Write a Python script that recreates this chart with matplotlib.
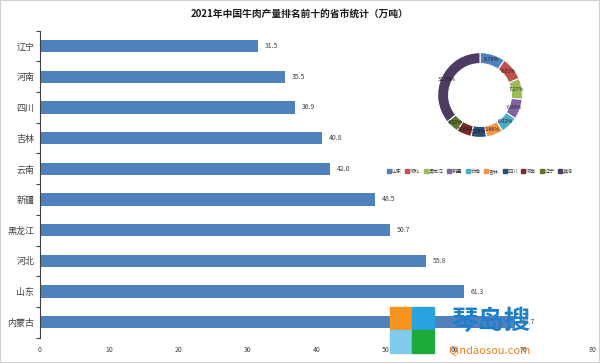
import matplotlib.pyplot as plt
from matplotlib.patches import Rectangle
from matplotlib.lines import Line2D
import numpy as np

plt.rcParams['font.family'] = ['Noto Sans CJK SC', 'DejaVu Sans']

# bar data (top to bottom as in the picture)
provinces = ['辽宁', '河南', '四川', '吉林', '云南', '新疆', '黑龙江', '河北', '山东', '内蒙古']
output = [31.5, 35.5, 36.9, 40.8, 42.0, 48.5, 50.7, 55.8, 61.3, 68.7]

# donut data
pie_names = ['山东', '河北', '黑龙江', '新疆', '云南', '吉林', '四川', '河南', '辽宁', '其他']
pie_pct = [8.79, 8.01, 7.27, 6.95, 6.02, 5.86, 5.28, 5.09, 4.52, 32.36]
pie_colors = ['#4F81BD', '#C0504D', '#9BBB59', '#8064A2', '#4BACC6',
              '#F79646', '#2C4D75', '#772C2A', '#5F7530', '#4D3B62']

fig = plt.figure(figsize=(6, 3.63), dpi=100)

# main bar chart
ax = fig.add_axes([0.0667, 0.0700, 0.9213, 0.8454])
y = np.arange(len(provinces))
ax.barh(y, output, height=0.4, color='#4F81BD')
ax.set_ylim(len(provinces) - 0.5, -0.5)
ax.set_xlim(0, 80)
ax.set_xticks(range(0, 81, 10))
ax.tick_params(axis='x', length=0, labelsize=5, colors='#404040', pad=6)
ax.set_yticks(y)
ax.set_yticklabels(provinces, fontsize=6.5, color='#404040')
ax.tick_params(axis='y', length=0, pad=4)
ax.set_yticks(np.arange(-0.5, len(provinces)), minor=True)
ax.tick_params(axis='y', which='minor', length=3, width=0.8, color='#404040')
for s in ['top', 'right', 'bottom']:
    ax.spines[s].set_visible(False)
ax.spines['left'].set_color('#404040')
ax.spines['left'].set_linewidth(0.8)
for yi, v in zip(y, output):
    ax.text(v + 1, yi, f'{v:.1f}', va='center', ha='left', fontsize=5, color='#404040')

fig.text(0.5, 0.962, '2021年中国牛肉产量排名前十的省市统计（万吨）',
         ha='center', va='center', fontsize=7, fontweight='bold', color='#1a1a1a')

# donut
pax = fig.add_axes([0.7117, 0.5923, 0.1767, 0.2920])
wedges, _ = pax.pie(pie_pct, colors=pie_colors, startangle=90, counterclock=False,
                    wedgeprops=dict(width=0.26, edgecolor='white', linewidth=0.8))
pax.set_aspect('equal')
for w, p in zip(wedges, pie_pct):
    ang = np.deg2rad((w.theta1 + w.theta2) / 2)
    r = 0.87
    pax.text(r * np.cos(ang), r * np.sin(ang), f'{p:.2f}%', ha='center', va='center',
             fontsize=3.8, color='#202020')

handles = [Line2D([], [], marker='s', linestyle='', markersize=2.2, color=c) for c in pie_colors]
fig.legend(handles, pie_names, loc='center', bbox_to_anchor=(0.80, 0.528), ncol=10,
           fontsize=3.6, frameon=False, handlelength=0.6, handletextpad=0.3,
           columnspacing=0.8, labelcolor='#404040')

# watermark logo
def px(x0, y0, w, h, c):
    fig.patches.append(Rectangle((x0 / 600, 1 - (y0 + h) / 363), w / 600, h / 363,
                                 transform=fig.transFigure, color=c, zorder=10))
px(390, 307, 22, 23, '#F7941D')
px(412, 307, 22, 23, '#29A3E0')
px(390, 330, 22, 23, '#7FCCF0')
px(412, 330, 22, 23, '#1DAA3B')
fig.text(491 / 600, 1 - 321 / 363, '琴岛搜', ha='center', va='center', fontsize=19,
         fontweight='bold', color='#1E7FCB', zorder=11)
fig.text(490 / 600, 1 - 350 / 363, 'Qindaosou.com', ha='center', va='center', fontsize=8,
         color='#F07D1A', zorder=11)

fig.patches.append(Rectangle((0, 0), 1, 1, transform=fig.transFigure, fill=False,
                             edgecolor='#D0D0D0', linewidth=1.5))

fig.savefig('out.png', dpi=100)
